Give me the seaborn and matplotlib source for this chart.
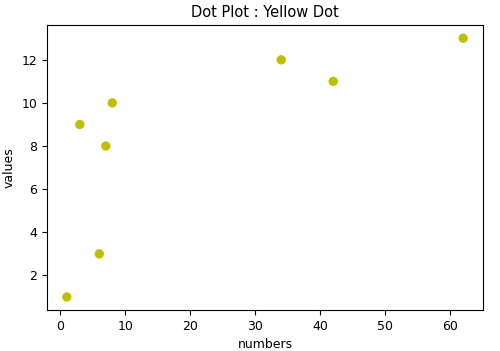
import matplotlib
matplotlib.use("Agg")
import matplotlib.pyplot as plt
import seaborn as sns
import pandas as pd

numbers = [1, 3, 6, 7, 8, 34, 42, 62]
values = [1, 9, 3, 8, 10, 12, 11, 13]

sns.set_theme(style="ticks")
plt.rcParams['font.family'] = ['DejaVu Sans']
plt.rcParams.update({"text.color": "black", "axes.labelcolor": "black",
                     "xtick.color": "black", "ytick.color": "black"})

df = pd.DataFrame({"numbers": numbers, "values": values})
fig, ax = plt.subplots(figsize=(5, 3.51), dpi=100)
fig.subplots_adjust(left=0.094, right=0.966, top=0.928, bottom=0.117)
sns.scatterplot(data=df, x="numbers", y="values", color="#bfbf00", s=45, edgecolor="none", ax=ax)
ax.set_title("Dot Plot : Yellow Dot", fontsize=10.5)
ax.set_xlabel("numbers", fontsize=9)
ax.set_ylabel("values", fontsize=9)
ax.tick_params(labelsize=9, length=3.5, width=0.8)
ax.set_xticks([0, 10, 20, 30, 40, 50, 60])
ax.set_yticks([2, 4, 6, 8, 10, 12])
for s in ax.spines.values():
    s.set_visible(True)
    s.set_color("black")
    s.set_linewidth(0.8)
fig.savefig("out.png", dpi=100)
